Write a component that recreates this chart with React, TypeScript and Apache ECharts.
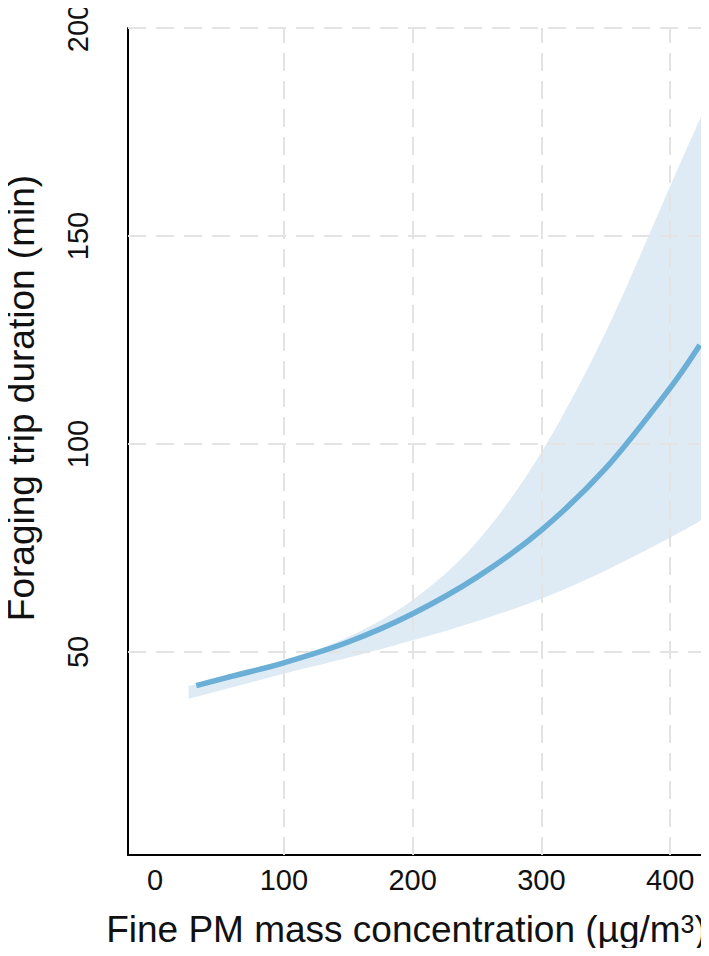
import React, { useEffect, useRef } from "react";
import * as echarts from "echarts";

const bandX = [26, 60, 100, 150, 200, 250, 300, 350, 400, 425];
const bandLower = [38.7, 41.5, 44.8, 48.6, 52.8, 57.4, 62.8, 69.6, 77.5, 81.8];
const bandUpper = [41.8, 44.8, 48.0, 53.6, 62.5, 76.5, 98.0, 127.0, 162.0, 179.5];

const lineX = [32, 60, 100, 150, 200, 250, 300, 350, 400, 423];
const lineY = [41.9, 44.2, 47.4, 52.4, 59.2, 68.0, 79.3, 94.2, 113.5, 123.8];

const xTicks = [0, 100, 200, 300, 400];
const yTicks = [50, 100, 150, 200];
const xGrid = [100, 200, 300, 400];
const yGrid = [50, 100, 150, 200];

const FONT = "'Liberation Sans', Arial, Helvetica, sans-serif";

// Catmull-Rom spline through screen points -> SVG cubic segments
function curveThrough(pts: number[][]): string {
  let d = "";
  for (let i = 0; i < pts.length - 1; i++) {
    const p0 = pts[i - 1] || pts[i];
    const p1 = pts[i];
    const p2 = pts[i + 1];
    const p3 = pts[i + 2] || p2;
    const c1x = p1[0] + (p2[0] - p0[0]) / 6;
    const c1y = p1[1] + (p2[1] - p0[1]) / 6;
    const c2x = p2[0] - (p3[0] - p1[0]) / 6;
    const c2y = p2[1] - (p3[1] - p1[1]) / 6;
    d += ` C${c1x},${c1y} ${c2x},${c2y} ${p2[0]},${p2[1]}`;
  }
  return d;
}

export default function App() {
  const ref = useRef<HTMLDivElement>(null);
  useEffect(() => {
    if (!ref.current) return;
    const chart = echarts.init(ref.current, null, { renderer: "svg" });
    const gridStyle = { color: "#e3e3e3", width: 2, type: [18, 10] as any };
    chart.setOption({
      animation: false,
      textStyle: { fontFamily: FONT },
      grid: { left: 128, right: 4, top: 28, bottom: 101, outerBoundsMode: "none", containLabel: false },
      xAxis: {
        type: "value",
        min: -21,
        max: 427,
        axisLine: { show: true, onZero: false, lineStyle: { color: "#000", width: 2 } },
        axisTick: { show: false },
        splitLine: { show: false },
        axisLabel: {
          customValues: xTicks,
          fontSize: 29,
          color: "#111",
          margin: 10,
          fontFamily: FONT,
        },
        name: "Fine PM mass concentration (µg/m{sup|3})",
        nameLocation: "middle",
        nameGap: 56,
        nameTextStyle: {
          fontSize: 37,
          color: "#111",
          fontFamily: FONT,
          padding: [0, 20, 0, 0],
          rich: {
            sup: { fontSize: 25, verticalAlign: "top", color: "#111", fontFamily: FONT },
          },
        },
      },
      yAxis: {
        type: "value",
        min: 1.2,
        max: 200,
        axisLine: { show: true, onZero: false, lineStyle: { color: "#000", width: 2 } },
        axisTick: { show: false },
        splitLine: { show: false },
        axisLabel: {
          customValues: yTicks,
          fontSize: 29,
          rotate: 90,
          color: "#111",
          margin: 36,
          fontFamily: FONT,
          align: "center",
          verticalAlign: "bottom",
        },
      },
      graphic: [
        {
          type: "text",
          x: 21,
          y: 398,
          rotation: Math.PI / 2,
          style: {
            text: "Foraging trip duration (min)",
            fontSize: 37,
            fontFamily: FONT,
            fill: "#111",
            align: "center",
            verticalAlign: "middle",
          },
        },
      ],
      series: [
        {
          type: "custom",
          name: "band",
          z: 1,
          clip: false,
          silent: true,
          data: [[bandX[0], bandLower[0]]],
          renderItem: (params: any, api: any) => {
            const up = bandX.map((x, i) => api.coord([x, bandUpper[i]]));
            const lo = bandX.map((x, i) => api.coord([x, bandLower[i]])).reverse();
            const d =
              `M${up[0][0]},${up[0][1]}` +
              curveThrough(up) +
              ` L${lo[0][0]},${lo[0][1]}` +
              curveThrough(lo) +
              " Z";
            return {
              type: "path",
              shape: { pathData: d },
              style: { fill: "#deebf5", stroke: "none" },
            };
          },
          markLine: {
            silent: true,
            z: 3,
            symbol: ["none", "none"],
            label: { show: false },
            lineStyle: gridStyle,
            data: [
              ...xGrid.map((v) => ({ xAxis: v })),
              ...yGrid.map((v) => ({ yAxis: v })),
            ],
          },
        },
        {
          type: "custom",
          name: "fit",
          z: 10,
          clip: false,
          silent: true,
          data: [[lineX[0], lineY[0]]],
          renderItem: (params: any, api: any) => {
            const pts = lineX.map((x, i) => api.coord([x, lineY[i]]));
            const d = `M${pts[0][0]},${pts[0][1]}` + curveThrough(pts);
            return {
              type: "path",
              shape: { pathData: d },
              style: { fill: "none", stroke: "#6baed6", lineWidth: 5.5, lineCap: "butt" },
            };
          },
        },
      ],
    });
    return () => chart.dispose();
  }, []);
  return <div ref={ref} style={{ width: 709, height: 956, margin: -8 }} />;
}
